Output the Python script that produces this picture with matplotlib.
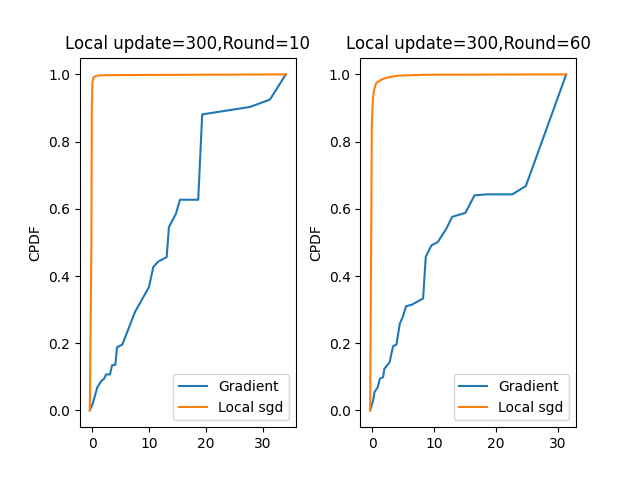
import matplotlib
matplotlib.use("Agg")
import matplotlib.pyplot as plt

# Round=10 panel
grad_x_10 = [-0.45, 0.06, 0.88, 1.64, 2.05, 2.40, 3.10, 3.46, 4.04, 4.33, 5.27,
             7.49, 9.95, 10.71, 11.58, 13.05, 13.46, 14.68, 15.39, 18.6, 19.3,
             27.67, 31.2, 34.0]
grad_y_10 = [0.0, 0.02, 0.069, 0.089, 0.094, 0.107, 0.107, 0.134, 0.136, 0.188,
             0.196, 0.293, 0.367, 0.427, 0.443, 0.456, 0.546, 0.585, 0.627,
             0.627, 0.881, 0.903, 0.925, 1.0]
sgd_x_10 = [-0.45, -0.17, -0.1, 0.0, 0.18, 0.6, 1.2, 4.0, 34.0]
sgd_y_10 = [0.0, 0.5, 0.9, 0.975, 0.991, 0.995, 0.997, 0.998, 1.0]

# Round=60 panel
grad_x_60 = [-0.32, 0.16, 0.37, 0.9, 1.23, 1.77, 1.98, 2.41, 2.84, 3.11, 3.38,
             3.92, 4.46, 4.94, 5.48, 6.44, 8.22, 8.65, 9.56, 10.59, 11.98,
             12.9, 15.05, 16.5, 18.5, 22.6, 24.8, 31.3]
grad_y_60 = [0.0, 0.03, 0.054, 0.069, 0.094, 0.099, 0.124, 0.134, 0.144, 0.169,
             0.191, 0.196, 0.258, 0.278, 0.31, 0.315, 0.333, 0.457, 0.491,
             0.501, 0.541, 0.576, 0.588, 0.640, 0.643, 0.643, 0.668, 1.0]
sgd_x_60 = [-0.32, -0.16, -0.05, 0.1, 0.26, 0.64, 1.45, 2.5, 4.1, 8.4, 31.3]
sgd_y_60 = [0.0, 0.5, 0.85, 0.92, 0.949, 0.974, 0.984, 0.991, 0.996, 0.999, 1.0]

fig, (ax1, ax2) = plt.subplots(1, 2)
plt.subplots_adjust(wspace=0.3)

ax1.plot(grad_x_10, grad_y_10, label="Gradient")
ax1.plot(sgd_x_10, sgd_y_10, label="Local sgd")
ax1.set_ylabel("CPDF")
ax1.set_title("Local update=300,Round=10")
ax1.legend(loc="lower right")

ax2.plot(grad_x_60, grad_y_60, label="Gradient")
ax2.plot(sgd_x_60, sgd_y_60, label="Local sgd")
ax2.set_ylabel("CPDF")
ax2.set_title("Local update=300,Round=60")
ax2.legend(loc="lower right")

plt.savefig("out.png")
